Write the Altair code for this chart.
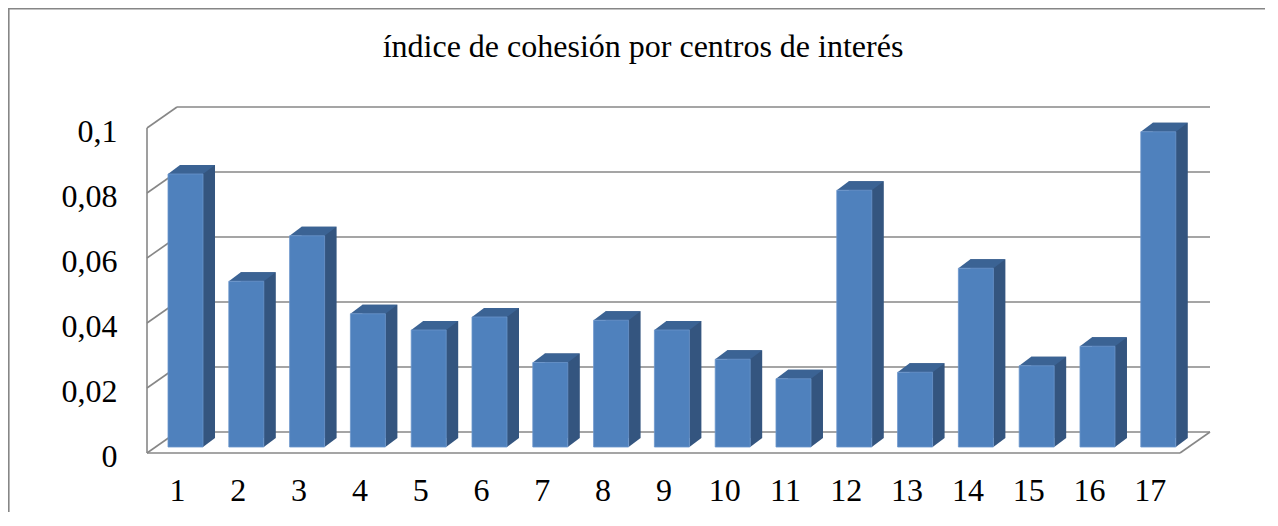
import altair as alt
import pandas as pd

# ---- data ----
categories = [str(i) for i in range(1, 18)]
values = [0.084, 0.051, 0.065, 0.041, 0.036, 0.040, 0.026, 0.039, 0.036,
          0.027, 0.021, 0.079, 0.023, 0.055, 0.025, 0.031, 0.097]
y_ticks = [0, 0.02, 0.04, 0.06, 0.08, 0.1]
title_text = "índice de cohesión por centros de interés"

# ---- styling ----
SERIF = "Liberation Serif"
FRONT = "#4f81bd"
SIDE = "#34557f"
TOP = "#3b6394"
GRID = "#878787"
W, H = 1063, 325
BACK = -15       # back wall offset from bar base (px)
FRONT_EDGE = 6   # front edge offset from bar base (px)
DEPTH_X = 30
FLOOR_END = 1033

df = pd.DataFrame({"cat": categories, "v": values})
grid = pd.DataFrame({"v": y_ticks})
one = pd.DataFrame({"k": [0]})

yscale = alt.Scale(domain=[0, 0.1], nice=False, zero=True)
yaxis = alt.Axis(values=y_ticks,
                 labelExpr="replace(format(datum.value, '.2~f'), '.', ',')",
                 labelFont=SERIF, labelFontSize=32, labelColor="black",
                 labelPadding=30, labelOffset=9, ticks=False, domain=False,
                 grid=False, title=None)

xenc = alt.X(
    "cat:N", sort=categories,
    scale=alt.Scale(paddingInner=0, paddingOuter=0.242, align=0.2755),
    axis=alt.Axis(labelAngle=0, labelFont=SERIF, labelFontSize=32,
                  labelColor="black", labelPadding=28, labelOffset=-8,
                  ticks=False, domain=False, grid=False, title=None),
)
yenc = alt.Y("v:Q", scale=yscale, axis=yaxis)


def ydat(val):
    return alt.YDatum(val, scale=yscale, axis=yaxis, type="quantitative")


frame = alt.Chart(one).mark_rect(filled=False, stroke="#868686", strokeWidth=1.6).encode(
    x=alt.value(-138.2), x2=alt.value(W + 300), y=alt.value(-113.2), y2=alt.value(H + 300)
)

back_grid = alt.Chart(grid).mark_rule(color=GRID, strokeWidth=1.6, yOffset=BACK).encode(
    y=yenc, x=alt.value(DEPTH_X), x2=alt.value(W)
)
side_grid = alt.Chart(grid).mark_rule(color=GRID, strokeWidth=1.6,
                                      yOffset=FRONT_EDGE, y2Offset=BACK).encode(
    y=yenc, y2=alt.Y2("v"), x=alt.value(0), x2=alt.value(DEPTH_X)
)
front_left = alt.Chart(one).mark_rule(color=GRID, strokeWidth=1.6,
                                      yOffset=FRONT_EDGE, y2Offset=FRONT_EDGE).encode(
    x=alt.value(0), y=ydat(0.1), y2=alt.Y2Datum(0)
)
floor_front = alt.Chart(one).mark_rule(color=GRID, strokeWidth=1.6, yOffset=FRONT_EDGE).encode(
    y=ydat(0), x=alt.value(0), x2=alt.value(FLOOR_END)
)
floor_right = alt.Chart(one).mark_rule(color=GRID, strokeWidth=1.6,
                                       yOffset=FRONT_EDGE, y2Offset=BACK).encode(
    y=ydat(0), y2=alt.Y2Datum(0), x=alt.value(FLOOR_END), x2=alt.value(W)
)

bar_side = alt.Chart(df).mark_bar(width=35, color=SIDE, xOffset=12, x2Offset=12,
                                  yOffset=-9, y2Offset=-9).encode(x=xenc, y=yenc)
bar_bottom = alt.Chart(df).mark_point(
    shape="M1.75,-0.9 L1.75,0 L2.95,-0.9 Z", size=400, filled=True,
    fill=SIDE, strokeWidth=0, opacity=1
).encode(x=xenc, y=ydat(0))
bar_top = alt.Chart(df).mark_point(
    shape="M-1.75,0 L1.75,0 L2.95,-0.9 L-0.55,-0.9 Z", size=400, filled=True,
    fill=TOP, strokeWidth=0, opacity=1
).encode(x=xenc, y=yenc)
bar_front = alt.Chart(df).mark_bar(width=35, color=FRONT, stroke="#6b96cc",
                                   strokeWidth=0.8).encode(x=xenc, y=yenc)

title = alt.Chart(one).mark_text(
    text=title_text, font=SERIF, fontSize=32, color="black",
    align="center", baseline="alphabetic"
).encode(x=alt.value(496), y=alt.value(-65))

chart = alt.layer(
    frame, back_grid, side_grid, front_left, floor_front, floor_right,
    bar_side, bar_bottom, bar_top, bar_front, title
).properties(
    width=W, height=H,
    autosize=alt.AutoSizeParams(type="none"),
    padding={"left": 139, "top": 114, "right": 55, "bottom": 65},
    background="white",
).configure_view(stroke=None)

chart.save("out.html", embed_options={"renderer": "svg", "actions": False})
